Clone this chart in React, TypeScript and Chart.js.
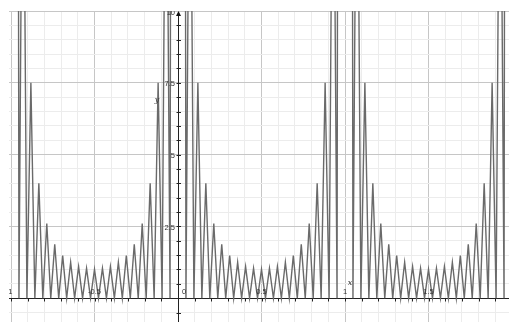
import React, { useEffect, useRef } from 'react';
import { Chart, registerables } from 'chart.js';

Chart.register(...registerables);

// ---- data ----
const periodStarts = [-1, 0, 1];
const lobesPerPeriod = 21;
// peak height of each finite lobe between the spikes (one period)
const lobePeaks = [20, 7.5, 4.0, 2.6, 1.88, 1.48, 1.25, 1.1, 1.04, 1.0, 1.04, 1.1, 1.25, 1.48, 1.88, 2.6, 4.0, 7.5, 20];
const spikeValue = 200; // off-scale spike at each integer
const xTickValues = [-1, -0.5, 0, 0.5, 1, 1.5];
const xTickLabels = ['-1', '-0.5', '0', '0.5', '1', '1.5'];
const yTickValues = [2.5, 5, 7.5, 10];
const yTickLabels = ['2.5', '5', '7.5', '10'];
const xRange = [-1.012, 1.982];
const yRange = [-0.83, 10];

function buildPoints() {
  const N = lobesPerPeriod;
  const pts: { x: number; y: number }[] = [];
  pts.push({ x: periodStarts[0] - 1 / N, y: 0 });
  for (const s of periodStarts) {
    pts.push({ x: s, y: spikeValue });
    for (let k = 1; k < N; k++) {
      pts.push({ x: s + k / N, y: 0 });
      if (k < N - 1) pts.push({ x: s + (k + 0.5) / N, y: lobePeaks[k - 1] });
    }
  }
  const last = periodStarts[periodStarts.length - 1] + 1;
  pts.push({ x: last, y: spikeValue });
  pts.push({ x: last + 1 / N, y: 0 });
  return pts;
}

function stepValues(from: number, to: number, step: number) {
  const out: number[] = [];
  const n = Math.round((to - from) / step);
  for (let i = 0; i <= n; i++) out.push(Math.round((from + i * step) * 1000) / 1000);
  return out;
}

const MINOR = '#ececec';
const MAJOR = '#c6c6c6';

const axesPlugin = {
  id: 'ggbAxes',
  beforeDatasetsDraw(chart: any) {
    const { ctx, chartArea: a, scales } = chart;
    const xs = scales.x, ys = scales.y;
    const x0 = Math.round(xs.getPixelForValue(0)) + 0.5;
    const y0 = Math.round(ys.getPixelForValue(0)) + 0.5;
    ctx.save();
    ctx.strokeStyle = '#222';
    ctx.lineWidth = 1;
    ctx.beginPath();
    ctx.moveTo(a.left, y0);
    ctx.lineTo(a.right, y0);
    ctx.moveTo(x0, a.top + 3);
    ctx.lineTo(x0, a.bottom);
    for (const v of stepValues(-1, 1.9, 0.1)) {
      const px = Math.round(xs.getPixelForValue(v)) + 0.5;
      ctx.moveTo(px, y0);
      ctx.lineTo(px, y0 + 3);
    }
    for (const v of stepValues(-0.5, 9.5, 0.5)) {
      if (v === 0) continue;
      const py = Math.round(ys.getPixelForValue(v)) + 0.5;
      ctx.moveTo(x0 - 2, py);
      ctx.lineTo(x0 + 2.5, py);
    }
    ctx.stroke();
    ctx.fillStyle = '#111';
    ctx.beginPath();
    ctx.moveTo(x0, a.top);
    ctx.lineTo(x0 - 2.5, a.top + 5);
    ctx.lineTo(x0 + 2.5, a.top + 5);
    ctx.closePath();
    ctx.fill();
    ctx.restore();
  },
  afterDatasetsDraw(chart: any) {
    const { ctx, chartArea: a, scales } = chart;
    const xs = scales.x, ys = scales.y;
    const x0 = xs.getPixelForValue(0);
    const y0 = ys.getPixelForValue(0);
    ctx.save();
    ctx.beginPath();
    ctx.rect(a.left, a.top, a.right - a.left, a.bottom - a.top);
    ctx.clip();
    ctx.fillStyle = '#333';
    ctx.font = '7.5px "Liberation Sans", Arial, sans-serif';
    ctx.textBaseline = 'alphabetic';
    xTickValues.forEach((v, i) => {
      let px = xs.getPixelForValue(v);
      ctx.textAlign = 'center';
      if (v === 0) px += 6;
      if (v === -1) { ctx.textAlign = 'right'; px += 1.5; }
      ctx.fillText(xTickLabels[i], px, y0 - 4);
    });
    ctx.textAlign = 'right';
    ctx.textBaseline = 'middle';
    yTickValues.forEach((v, i) => {
      ctx.fillText(yTickLabels[i], x0 - 3, ys.getPixelForValue(v) + 1.5);
    });
    ctx.font = 'italic 8px "DejaVu Serif", serif';
    ctx.textAlign = 'center';
    ctx.fillText('x', xs.getPixelForValue(1.03), ys.getPixelForValue(0.52));
    ctx.fillText('y', x0 - 21, ys.getPixelForValue(6.9));
    ctx.restore();
  },
};

export default function App() {
  const ref = useRef<HTMLCanvasElement | null>(null);
  useEffect(() => {
    if (!ref.current) return;
    const xGrid = stepValues(-1, 1.9, 0.1);
    const yGrid = stepValues(-0.5, 10, 0.5);
    const isMult = (v: number, m: number) => Math.abs(v / m - Math.round(v / m)) < 1e-6;
    const chart = new Chart(ref.current, {
      type: 'line',
      data: {
        datasets: [
          {
            data: buildPoints(),
            borderColor: '#6a6a6a',
            borderWidth: 1.4,
            pointRadius: 0,
            tension: 0,
            fill: false,
          },
        ],
      },
      options: {
        responsive: false,
        animation: false,
        layout: { padding: { left: 9, top: 11, right: 0, bottom: 0 } },
        plugins: { legend: { display: false }, tooltip: { enabled: false } },
        scales: {
          x: {
            type: 'linear',
            min: xRange[0],
            max: xRange[1],
            afterBuildTicks: (s: any) => { s.ticks = xGrid.map((v) => ({ value: v })); },
            ticks: { display: false },
            border: { display: false },
            grid: {
              drawTicks: false,
              color: (c: any) => (c.tick && isMult(c.tick.value, 0.5) ? MAJOR : MINOR),
              lineWidth: 1,
            },
          },
          y: {
            type: 'linear',
            min: yRange[0],
            max: yRange[1],
            afterBuildTicks: (s: any) => { s.ticks = yGrid.map((v) => ({ value: v })); },
            ticks: { display: false },
            border: { display: false },
            grid: {
              drawTicks: false,
              color: (c: any) => (c.tick && isMult(c.tick.value, 2.5) ? MAJOR : MINOR),
              lineWidth: 1,
            },
          },
        },
      } as any,
      plugins: [axesPlugin],
    });
    return () => chart.destroy();
  }, []);
  return (
    <div style={{ position: 'fixed', left: 0, top: 0, width: 509, height: 322, background: '#fff' }}>
      <canvas ref={ref} width={509} height={322} style={{ display: 'block' }} />
    </div>
  );
}
